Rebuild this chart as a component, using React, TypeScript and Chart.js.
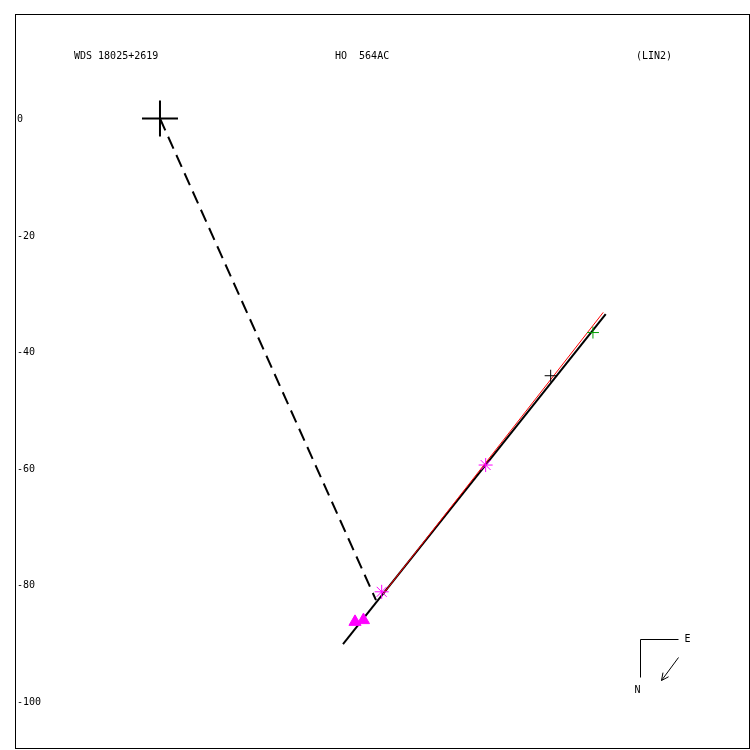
import { useEffect, useRef } from "react";
import { Chart, registerables } from "chart.js";

Chart.register(...registerables);

// Header strings
const wdsId = "WDS 18025+2619";
const discoverer = "HO  564AC";
const fitCode = "(LIN2)";

// Y axis tick values (arcsec-scaled offsets)
const yTicks = [0, -20, -40, -60, -80, -100];

// Primary star at the origin
const primary = [{ x: 0, y: 0 }];
// Line from primary to the fitted track
const primaryLink = [
  { x: 0, y: 0 },
  { x: 37.08, y: -82.66 },
];
// Linear motion fit (black) and alternate fit (red)
const linearFit = [
  { x: 31.42, y: -90.21 },
  { x: 76.52, y: -33.56 },
];
const altFit = [
  { x: 38.28, y: -81.63 },
  { x: 76.1, y: -33.27 },
];
// Observations
const speckleObs = [
  { x: 38.06, y: -81.24 },
  { x: 55.91, y: -59.48 },
];
const micrometerObs = [{ x: 67.07, y: -44.15 }];
const photoObs = [{ x: 74.33, y: -36.74 }];
const spaceObs = [
  { x: 33.48, y: -86.4 },
  { x: 34.93, y: -86.1 },
];

const MONO = "'DejaVu Sans Mono', monospace";

const decorations = {
  id: "decorations",
  afterDraw(chart: any) {
    const { ctx, chartArea } = chart;
    const { left, top } = chartArea;
    const yScale = chart.scales.y;
    ctx.save();
    // frame
    ctx.strokeStyle = "#000";
    ctx.lineWidth = 1;
    ctx.strokeRect(left + 0.5, top + 0.5, chartArea.right - left, chartArea.bottom - top);

    ctx.fillStyle = "#000";
    ctx.font = "10px " + MONO;
    ctx.textBaseline = "middle";
    ctx.textAlign = "left";

    // y tick labels, inside the frame
    for (const v of yTicks) {
      ctx.fillText(String(v), left + 2, yScale.getPixelForValue(v) + 1);
    }

    // header
    ctx.fillText(wdsId, left + 59, top + 42);
    ctx.fillText(discoverer, left + 320, top + 42);
    ctx.fillText(fitCode, left + 621, top + 42);

    // compass
    const cx = left + 625.5;
    const cy = top + 625.5;
    ctx.beginPath();
    ctx.moveTo(cx + 38, cy);
    ctx.lineTo(cx, cy);
    ctx.lineTo(cx, cy + 38);
    ctx.stroke();
    ctx.textAlign = "center";
    ctx.fillText("E", cx + 47, cy);
    ctx.fillText("N", cx - 3, cy + 51);

    const ax0 = cx + 38, ay0 = cy + 18;
    const ax1 = cx + 21, ay1 = cy + 41;
    ctx.beginPath();
    ctx.moveTo(ax0, ay0);
    ctx.lineTo(ax1, ay1);
    const ang = Math.atan2(ay1 - ay0, ax1 - ax0);
    const hl = 8;
    for (const d of [0.45, -0.45]) {
      ctx.moveTo(ax1, ay1);
      ctx.lineTo(ax1 - hl * Math.cos(ang + d), ay1 - hl * Math.sin(ang + d));
    }
    ctx.stroke();
    ctx.restore();
  },
};

export default function App() {
  const ref = useRef<HTMLCanvasElement | null>(null);

  useEffect(() => {
    if (!ref.current) return;
    const chart = new Chart(ref.current, {
      type: "scatter",
      data: {
        datasets: [
          {
            data: speckleObs,
            pointStyle: "star",
            pointRadius: 7,
            borderColor: "#ff00ff",
            backgroundColor: "#ff00ff",
            borderWidth: 1,
            order: 1,
          },
          {
            data: spaceObs,
            pointStyle: "triangle",
            pointRadius: 7,
            borderColor: "#ff00ff",
            backgroundColor: "#ff00ff",
            borderWidth: 1,
            order: 1,
          },
          {
            data: micrometerObs,
            pointStyle: "cross",
            pointRadius: 6,
            borderColor: "#000",
            borderWidth: 1,
            order: 1,
          },
          {
            data: photoObs,
            pointStyle: "cross",
            pointRadius: 6,
            borderColor: "#00a000",
            borderWidth: 1,
            order: 1,
          },
          {
            data: primary,
            pointStyle: "cross",
            pointRadius: 18,
            borderColor: "#000",
            borderWidth: 2,
            order: 1,
          },
          {
            data: altFit,
            showLine: true,
            pointRadius: 0,
            borderColor: "#ff0000",
            borderWidth: 1,
            order: 3,
          },
          {
            data: linearFit,
            showLine: true,
            pointRadius: 0,
            borderColor: "#000",
            borderWidth: 2,
            order: 4,
          },
          {
            data: primaryLink,
            showLine: true,
            pointRadius: 0,
            borderColor: "#000",
            borderWidth: 2,
            borderDash: [13, 7],
            order: 4,
          },
        ],
      },
      options: {
        responsive: false,
        animation: false,
        devicePixelRatio: 1,
        layout: { autoPadding: false, padding: { left: 15, top: 14, right: 1, bottom: 2 } },
        plugins: {
          legend: { display: false },
          tooltip: { enabled: false },
        },
        scales: {
          x: {
            type: "linear",
            display: false,
            min: -24.89,
            max: 101.12,
          },
          y: {
            type: "linear",
            display: false,
            min: -108.05,
            max: 17.94,
          },
        },
      },
      plugins: [decorations],
    });
    return () => chart.destroy();
  }, []);

  return (
    <div style={{ position: "absolute", left: 0, top: 0, width: 750, height: 750, background: "#fff" }}>
      <canvas ref={ref} width={750} height={750} style={{ display: "block" }} />
    </div>
  );
}
